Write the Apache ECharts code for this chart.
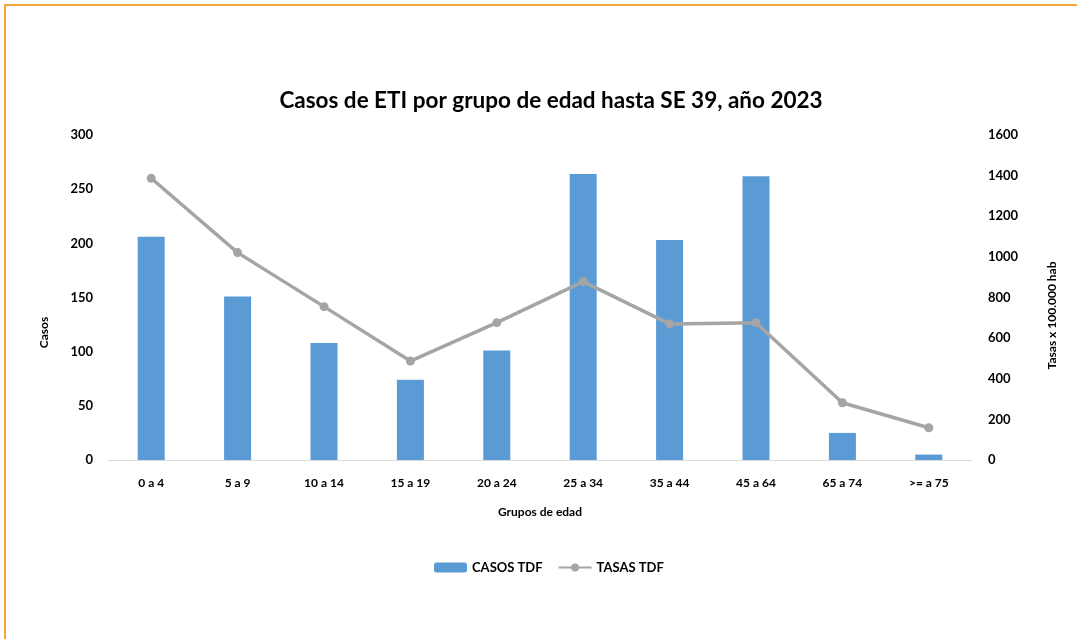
<!DOCTYPE html>
<html>
<head>
<meta charset="utf-8">
<script src="https://cdn.jsdelivr.net/npm/echarts@6/dist/echarts.min.js"></script>
<style>
  html, body { margin: 0; padding: 0; background: #fff; }
  #chart { width: 1077px; height: 639px; }
</style>
</head>
<body>
<div id="chart"></div>
<script>
const grupos = ['0 a 4', '5 a 9', '10 a 14', '15 a 19', '20 a 24', '25 a 34', '35 a 44', '45 a 64', '65 a 74', '>= a 75'];
const casosTDF = [206, 151, 108, 74, 101, 264, 203, 262, 25, 5];
const tasasTDF = [1387, 1021, 755, 487, 676, 878, 670, 676, 282, 159];
const casosTicks = [0, 300, 50];
const tasasTicks = [0, 1600, 200];

const font = 'Lato';
const chart = echarts.init(document.getElementById('chart'));

const option = {
    animation: false,
    backgroundColor: '#fff',
    textStyle: { fontFamily: font },
    title: {
        text: 'Casos de ETI por grupo de edad hasta SE 39, año 2023',
        left: 546,
        textAlign: 'center',
        top: 84,
        textStyle: { fontFamily: font, fontSize: 22.5, fontWeight: 'bold', color: '#000' }
    },
    graphic: [{
        type: 'rect',
        shape: { x: 5, y: 5, width: 1200, height: 800 },
        style: { fill: 'none', stroke: '#F5A33C', lineWidth: 2 },
        silent: true
    }],
    legend: {
        data: ['CASOS TDF', 'TASAS TDF'],
        left: 429,
        top: 556,
        itemWidth: 33,
        itemHeight: 10,
        itemGap: 15,
        textStyle: { fontFamily: font, fontSize: 13, fontWeight: 'bold', color: '#000' }
    },
    grid: { left: 108, right: 105, top: 135, bottom: 179 },
    xAxis: {
        type: 'category',
        data: grupos,
        name: 'Grupos de edad',
        nameLocation: 'middle',
        nameGap: 46,
        nameTextStyle: { fontFamily: font, fontSize: 12, fontWeight: 'bold', color: '#000' },
        axisLine: { lineStyle: { color: '#D9D9D9', width: 1 } },
        axisTick: { show: false },
        axisLabel: { margin: 17, fontFamily: font, fontSize: 12, fontWeight: 'bold', color: '#000' }
    },
    yAxis: [{
        type: 'value',
        min: casosTicks[0],
        max: casosTicks[1],
        interval: casosTicks[2],
        name: 'Casos',
        nameLocation: 'middle',
        nameGap: 58,
        nameTextStyle: { fontFamily: font, fontSize: 12, fontWeight: 'bold', color: '#000', padding: [0, 70, 0, 0] },
        splitLine: { show: false },
        axisLine: { show: false },
        axisTick: { show: false },
        axisLabel: { margin: 15, fontFamily: font, fontSize: 13, fontWeight: 'bold', color: '#000' }
    }, {
        type: 'value',
        min: tasasTicks[0],
        max: tasasTicks[1],
        interval: tasasTicks[2],
        name: 'Tasas x 100.000 hab',
        nameLocation: 'middle',
        nameGap: 74,
        nameTextStyle: { fontFamily: font, fontSize: 12, fontWeight: 'bold', color: '#000', padding: [0, 36, 0, 0] },
        splitLine: { show: false },
        axisLine: { show: false },
        axisTick: { show: false },
        axisLabel: {
            margin: 16, fontFamily: font, fontSize: 13, fontWeight: 'bold', color: '#000',
            formatter: v => String(v)
        }
    }],
    series: [{
        name: 'CASOS TDF',
        type: 'bar',
        data: casosTDF,
        barWidth: 27,
        itemStyle: { color: '#5B9BD5' }
    }, {
        name: 'TASAS TDF',
        type: 'line',
        yAxisIndex: 1,
        data: tasasTDF,
        symbol: 'circle',
        symbolSize: 9,
        lineStyle: { color: '#A5A5A5', width: 3.5 },
        itemStyle: { color: '#A5A5A5' }
    }]
};

chart.setOption(option);
</script>
</body>
</html>
